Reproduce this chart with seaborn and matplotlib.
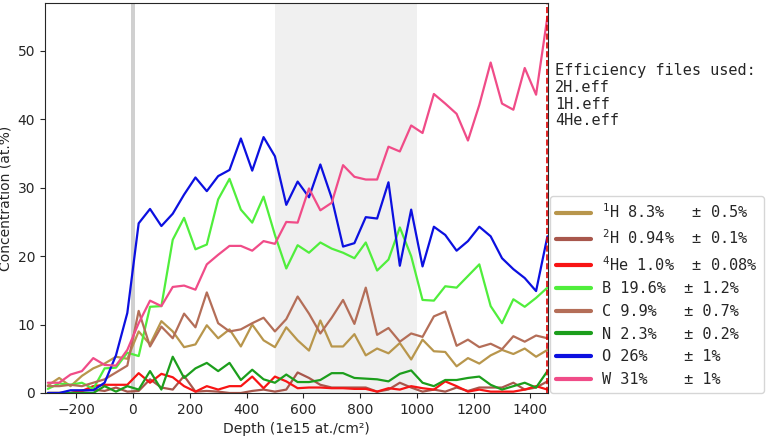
import matplotlib
matplotlib.use("Agg")
import matplotlib.pyplot as plt
import seaborn as sns
import pandas as pd

depth = [-300, -260, -220, -180, -140, -100, -60, -20, 20, 60, 100, 140, 180, 220, 260,
         300, 340, 380, 420, 460, 500, 540, 580, 620, 660, 700, 740, 780, 820, 860,
         900, 940, 980, 1020, 1060, 1100, 1140, 1180, 1220, 1260, 1300, 1340, 1380, 1420, 1460]

h1 = [1.1, 2.2, 1.0, 2.5, 3.6, 4.3, 5.3, 5.0, 9.0, 7.1, 10.5, 9.0, 6.7, 7.1, 9.9,
      8.0, 9.3, 6.8, 10.0, 7.7, 6.7, 9.6, 7.7, 6.2, 10.6, 6.8, 6.8, 8.6, 5.5, 6.5,
      5.8, 7.3, 4.9, 7.8, 6.1, 6.0, 3.9, 5.1, 4.3, 5.5, 6.3, 5.7, 6.5, 5.3, 6.3]
h2 = [0.0, 0.0, 0.0, 0.3, 0.5, 0.3, 0.8, 0.2, 0.3, 2.0, 0.8, 0.5, 2.5, 0.2, 0.3,
      0.2, 0.0, 0.0, 0.3, 0.5, 0.2, 0.5, 3.0, 2.2, 1.2, 0.8, 0.8, 0.8, 0.8, 0.2,
      0.5, 1.5, 0.8, 0.2, 0.5, 0.2, 0.8, 0.3, 0.8, 0.8, 0.8, 1.5, 0.5, 0.8, 1.7]
he4 = [0.0, 0.0, 0.0, 0.3, 1.0, 1.2, 1.2, 1.2, 2.9, 1.5, 2.8, 2.3, 1.0, 0.2, 1.0,
       0.5, 1.0, 1.0, 2.4, 0.7, 2.4, 1.7, 0.7, 0.8, 0.8, 0.7, 0.7, 0.6, 0.6, 0.2,
       0.7, 0.5, 1.0, 0.7, 0.5, 1.7, 1.0, 0.2, 0.5, 0.2, 0.2, 0.2, 0.5, 1.0, 0.5]
b = [0.6, 1.4, 1.2, 1.5, 0.6, 3.6, 3.7, 5.9, 5.4, 12.6, 12.7, 22.4, 25.6, 21.0, 21.7,
     28.3, 31.3, 26.8, 24.9, 28.7, 23.1, 18.2, 21.6, 20.5, 22.0, 21.1, 20.5, 19.7, 22.0, 17.9,
     19.5, 24.2, 20.0, 13.6, 13.5, 15.6, 15.4, 17.1, 18.8, 12.7, 10.2, 13.7, 12.6, 13.9, 15.4]
c = [1.0, 1.0, 1.2, 1.0, 1.5, 2.0, 3.0, 4.0, 12.0, 6.8, 9.7, 8.0, 11.6, 9.6, 14.7,
     10.2, 9.0, 9.3, 10.2, 11.0, 9.0, 10.8, 14.1, 11.6, 8.7, 11.0, 13.6, 10.1, 15.4, 8.5,
     9.5, 7.5, 8.7, 8.2, 11.2, 11.9, 6.9, 7.8, 6.7, 7.2, 6.4, 8.3, 7.5, 8.4, 8.0]
n = [0.0, 0.0, 0.0, 0.0, 0.0, 1.0, 0.2, 1.0, 0.5, 3.2, 0.5, 5.3, 2.2, 3.6, 4.4,
     3.2, 4.4, 1.9, 3.4, 2.0, 1.5, 2.7, 1.6, 1.6, 1.9, 2.9, 2.9, 2.2, 2.1, 2.0,
     1.7, 2.8, 3.3, 1.5, 1.0, 1.9, 1.9, 2.2, 2.4, 1.2, 0.5, 1.0, 1.5, 0.8, 3.2]
o = [0.0, 0.0, 0.4, 0.4, 0.4, 1.5, 5.5, 11.7, 24.8, 26.9, 24.4, 26.2, 29.0, 31.5, 29.5,
     31.7, 32.6, 37.2, 32.5, 37.4, 34.6, 27.5, 30.9, 28.6, 33.4, 28.5, 21.4, 21.9, 25.7, 25.5,
     30.8, 18.6, 26.8, 18.5, 24.3, 23.1, 20.8, 22.2, 24.3, 22.9, 19.7, 18.1, 16.8, 14.9, 22.9]
w = [1.5, 1.5, 2.7, 3.2, 5.1, 4.1, 4.0, 6.3, 10.2, 13.5, 12.7, 15.5, 15.7, 15.1, 18.8,
     20.2, 21.5, 21.5, 20.8, 22.2, 21.8, 25.0, 24.9, 29.9, 26.7, 27.8, 33.3, 31.6, 31.2, 31.2,
     36.0, 35.3, 39.1, 38.0, 43.7, 42.3, 40.8, 36.9, 42.1, 48.3, 42.3, 41.4, 47.5, 43.6, 55.0]

labels = [r"$^{1}$H 8.3%   ± 0.5%",
          r"$^{2}$H 0.94%  ± 0.1%",
          r"$^{4}$He 1.0%  ± 0.08%",
          "B 19.6%  ± 1.2%",
          "C 9.9%   ± 0.7%",
          "N 2.3%   ± 0.2%",
          "O 26%    ± 1%",
          "W 31%    ± 1%"]
series = [h1, h2, he4, b, c, n, o, w]
colors = ["#b8964c", "#a8574c", "#f81414", "#50ee3c", "#b46e58", "#1c9e1c", "#0c10e0", "#f04c88"]

eff_text = "Efficiency files used:\n2H.eff\n1H.eff\n4He.eff"

sns.set_style("ticks")
plt.rcParams["font.family"] = ["DejaVu Sans"]
plt.rcParams["mathtext.default"] = "regular"

fig = plt.figure(figsize=(7.66, 4.38), dpi=100)
ax = fig.add_axes([45 / 766, 1 - 393 / 438, (548 - 45) / 766, (393 - 3) / 438])

ax.axvspan(500, 1000, color="#f0f0f0", lw=0, zorder=0)
ax.axvspan(-7, 7, color="#d0d0d0", lw=0, zorder=0)

for vals, lab, col in zip(series, labels, colors):
    df = pd.DataFrame({"depth": depth, "conc": vals})
    sns.lineplot(data=df, x="depth", y="conc", color=col, lw=1.6, label=lab, ax=ax)

ax.axvline(1460, color="#e00000", ls="--", lw=1.2)

ax.set_xlim(-310, 1462)
ax.set_ylim(0, 57)
ax.set_xticks([-200, 0, 200, 400, 600, 800, 1000, 1200, 1400])
ax.set_yticks([0, 10, 20, 30, 40, 50])
ax.tick_params(labelsize=10)
ax.set_xlabel("Depth (1e15 at./cm²)", fontsize=10)
ax.set_ylabel("Concentration (at.%)", fontsize=10)

leg = ax.legend(loc="lower left", bbox_to_anchor=(1.003, 0.0), borderaxespad=0,
                prop={"family": "DejaVu Sans Mono", "size": 11},
                handlelength=2.3, handletextpad=0.75, labelspacing=0.5,
                frameon=True, fancybox=True)
for line in leg.get_lines():
    line.set_linewidth(3)

fig.text(555 / 766, 1 - 63 / 438, eff_text, va="top", ha="left",
         family="DejaVu Sans Mono", fontsize=11, linespacing=1.15)

fig.savefig("out.png", dpi=100)
